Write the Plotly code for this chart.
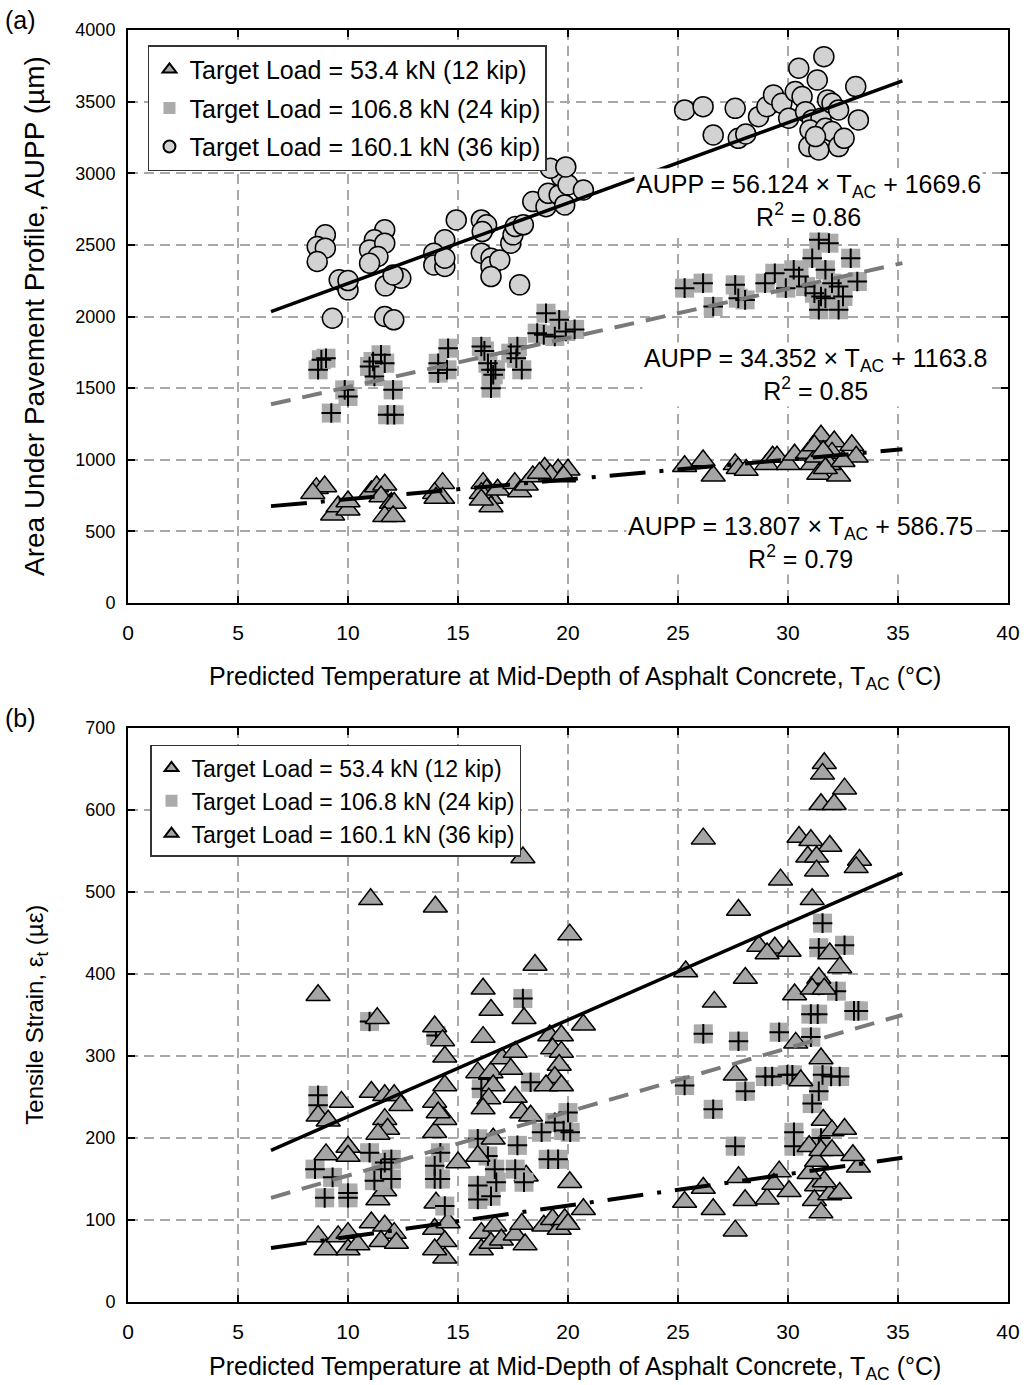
import plotly.graph_objects as go

# ---------------- (a) Area under pavement profile ----------------
# 53.4 kN (12 kip)
a12_t = [8.56, 8.94, 8.4, 9.3, 9.55, 10.0, 10.0, 11.06, 11.3, 11.67, 11.5, 11.97, 12.1, 11.67, 12.05,
         14.3, 13.94, 14.3, 14.0, 16.14, 16.3, 16.5, 16.06, 16.8, 16.5, 16.06, 17.58, 17.8, 18.1, 18.4,
         18.94, 19.55, 20.0, 19.2, 19.8, 18.7,
         25.3, 26.14, 26.6, 27.6, 27.74, 28.1, 29.03, 29.3, 29.5, 30.0, 30.3, 30.9, 31.1, 31.5, 32.1,
         32.0, 32.9, 33.1, 31.4, 32.3, 31.85, 31.3, 31.7, 31.2, 32.5, 31.6]
a12_v = [802, 814, 767, 616, 674, 651, 709, 779, 814, 826, 744, 698, 698, 605, 605,
         837, 767, 733, 733, 837, 791, 733, 767, 791, 674, 721, 837, 779, 826, 884,
         942, 930, 930, 895, 884, 907,
         955, 995, 888, 968, 941, 928, 968, 1021, 1021, 968, 1035, 1048, 968, 1168, 1128,
         1048, 1101, 1021, 901, 888, 968, 1021, 941, 1100, 990, 1060]

# 106.8 kN (24 kip)
a24_t = [8.79, 8.64, 9.0, 9.24, 9.85, 10.0, 10.98, 11.14, 11.5, 11.67, 11.2, 12.05, 11.8, 12.1,
         14.55, 14.1, 14.1, 14.5, 16.06, 16.2, 16.36, 16.5, 16.6, 16.5, 16.7, 17.4, 17.65, 17.9, 17.7,
         19.0, 18.6, 18.9, 19.6, 19.9, 19.4, 20.3,
         25.3, 26.14, 26.6, 27.6, 27.74, 28.05, 28.96, 29.4, 29.9, 30.26, 30.5, 31.4, 31.86, 31.1,
         31.7, 32.85, 33.15, 30.8, 31.2, 31.5, 31.7, 31.4, 32.3, 32.5, 32.0, 32.3]
a24_v = [1698, 1628, 1709, 1326, 1488, 1442, 1651, 1686, 1733, 1674, 1581, 1488, 1314, 1314,
         1779, 1674, 1605, 1628, 1791, 1760, 1674, 1628, 1593, 1500, 1628, 1744, 1709, 1628, 1791,
         2023, 1884, 1872, 1977, 1895, 1860, 1910,
         2198, 2233, 2070, 2221, 2128, 2116, 2233, 2302, 2198, 2326, 2279, 2535, 2512, 2407,
         2326, 2407, 2244, 2209, 2163, 2140, 2128, 2047, 2047, 2140, 2233, 2209]

# 160.1 kN (36 kip)
a36_t = [8.97, 8.6, 8.97, 8.6, 9.29, 9.6, 10.0, 10.0, 11.67, 11.2, 10.98, 11.67, 11.36, 10.98, 11.7,
         12.4, 12.05, 11.67, 12.08, 14.4, 13.9, 13.9, 14.4, 14.4, 14.92, 16.06, 16.3, 16.1, 16.06,
         16.5, 16.5, 16.9, 16.5, 17.8, 17.4, 17.5, 17.6, 17.97, 18.4, 19.0, 19.1, 19.6, 19.7, 19.2,
         20.0, 19.85, 20.7, 19.9,
         25.3, 26.14, 26.6, 27.6, 27.74, 28.08, 28.66, 29.04, 29.34, 29.72, 30.03, 30.33, 30.49,
         30.64, 31.33, 31.63, 30.8, 31.1, 31.5, 31.8, 32.0, 32.3, 33.08, 33.2, 31.0, 31.7, 32.0,
         30.95, 31.4, 32.3, 32.55, 31.25]
a36_v = [2570, 2488, 2477, 2384, 1988, 2256, 2186, 2251, 2605, 2535, 2465, 2512, 2419, 2372, 2214,
         2267, 2290, 2000, 1977, 2535, 2442, 2360, 2349, 2407, 2674, 2674, 2640, 2593, 2442,
         2407, 2349, 2395, 2279, 2221, 2512, 2570, 2628, 2640, 2802, 2767, 2860, 2849, 2977, 3035,
         2919, 2779, 2883, 3044,
         3442, 3465, 3267, 3453, 3244, 3274, 3395, 3465, 3547, 3488, 3384, 3570, 3733,
         3535, 3651, 3814, 3430, 3372, 3384, 3512, 3488, 3442, 3605, 3372, 3302, 3314, 3291,
         3186, 3163, 3186, 3244, 3256]

# regression lines for (a): slope, intercept, R2 (12, 24, 36 kip)
a_slope = [13.807, 34.352, 56.124]
a_icept = [586.75, 1163.8, 1669.6]
a_r2 = ["0.79", "0.85", "0.86"]

# ---------------- (b) Tensile strain ----------------
b12_t = [8.64, 9.0, 9.55, 10.0, 10.0, 10.45, 11.06, 11.67, 12.1, 11.5, 12.2, 13.94, 14.4, 14.4, 13.94,
         14.55, 16.06, 16.06, 16.67, 16.5, 16.97, 17.6, 17.9, 18.05, 18.9, 19.3, 19.6, 19.85, 20.0,
         20.7, 11.36, 11.67, 14.0, 18.1, 20.08,
         26.15, 25.3, 26.6, 27.6, 27.75, 28.05, 29.05, 29.6, 29.36, 30.05, 31.3, 31.2, 31.5, 31.9,
         32.35, 31.65, 30.96, 31.3, 33.2, 32.95]
b12_v = [80, 64, 80, 84, 64, 70, 97, 93, 84, 74, 72, 89, 74, 54, 64,
         97, 64, 84, 93, 72, 76, 82, 95, 70, 93, 101, 89, 101, 95,
         113, 125, 136, 121, 154, 146,
         139, 122, 113, 87, 152, 124, 126, 159, 144, 135, 142, 124, 109, 131,
         133, 147, 157, 172, 165, 179]

b24_t = [8.64, 8.64, 8.5, 9.3, 8.94, 10.0, 10.0, 10.98, 10.98, 11.67, 11.97, 11.97, 11.5, 11.2,
         13.94, 14.2, 13.94, 14.2, 14.4, 14.0, 15.9, 15.9, 16.36, 16.67, 16.74, 16.5, 15.9, 17.6,
         17.7, 18.3, 17.95, 18.0, 16.36, 16.06, 18.8, 19.1, 19.55, 19.4, 19.8, 20.0, 20.1,
         31.57, 31.4, 32.57, 31.4, 32.2, 31.04, 31.35, 33.0, 33.2, 31.04, 29.6, 26.15, 27.75,
         25.3, 28.06, 26.6, 28.97, 29.28, 29.97, 30.2, 31.57, 31.96, 32.35, 31.4, 31.1, 27.6,
         30.27, 30.27, 31.4, 31.5]
b24_v = [252, 240, 162, 152, 127, 127, 133, 342, 182, 170, 174, 150, 162, 148,
         166, 182, 150, 150, 117, 325, 199, 125, 178, 162, 146, 129, 142, 162,
         191, 268, 370, 146, 272, 260, 207, 174, 174, 219, 209, 231, 207,
         462, 432, 435, 386, 379, 351, 351, 355, 355, 323, 329, 327, 318,
         264, 257, 235, 275, 275, 277, 277, 277, 275, 275, 257, 242, 190,
         207, 190, 190, 200]

b36_t = [8.64, 8.64, 11.03, 13.97, 17.95, 16.14, 16.5, 18.0, 18.5, 20.08, 11.33, 13.94, 14.3, 14.4,
         14.4, 13.94, 13.94, 14.4, 14.1, 16.14, 15.9, 16.5, 16.6, 16.4, 16.14, 15.9, 16.6, 17.0,
         17.6, 17.4, 17.6, 17.9, 18.3, 15.0, 8.64, 9.1, 9.7, 11.06, 11.67, 12.1, 12.4, 11.67, 11.8,
         11.36, 9.0, 10.0, 10.0, 19.17, 19.7, 19.3, 19.7, 19.6, 19.4, 19.0, 19.7, 20.7,
         31.65, 31.57, 32.57, 31.5, 32.1, 26.15, 30.5, 31.04, 31.9, 30.9, 31.3, 31.3, 33.25, 33.1,
         29.66, 27.75, 31.1, 28.67, 29.4, 29.05, 30.05, 31.9, 32.35, 25.35, 28.06, 31.4, 30.3,
         31.1, 31.65, 26.65, 30.35, 31.5, 27.6, 30.58, 31.6, 32.0, 32.57, 30.96, 31.5, 32.0]
b36_v = [552, 374, 491, 482, 542, 382, 356, 346, 411, 448, 346, 336, 319, 299,
         264, 244, 207, 223, 231, 323, 280, 280, 264, 248, 236, 178, 199, 297,
         305, 284, 250, 231, 227, 170, 227, 221, 244, 256, 252, 252, 240, 223, 211,
         205, 180, 189, 178, 325, 325, 309, 305, 289, 274, 264, 264, 338,
         657, 644, 626, 607, 607, 565, 567, 563, 556, 543, 543, 526, 539, 530,
         515, 478, 491, 434, 432, 425, 428, 425, 408, 403, 395, 395, 375,
         382, 382, 366, 316, 297, 277, 270, 222, 209, 211, 190, 185, 185]

# fitted lines for (b): slope, intercept (12, 24, 36 kip)
b_slope = [3.83, 7.77, 11.78]
b_icept = [41.0, 76.5, 108.4]

trend_t = [6.5, 35.2]

legend_names = ["Target Load = 53.4 kN (12 kip)",
                "Target Load = 106.8 kN (24 kip)",
                "Target Load = 160.1 kN (36 kip)"]

FONT = "Liberation Sans, Arial, sans-serif"
TRI_FILL = "#a5a5a5"
SQ_FILL = "#ababab"
CIRC_FILL = "#d2d2d2"

fig = go.Figure()


def triangles(t, v, name, xa, ya, leg, group):
    fig.add_trace(go.Scatter(
        x=t, y=v, mode="markers", name=name, xaxis=xa, yaxis=ya, legend=leg,
        legendgroup=group,
        marker=dict(symbol="triangle-up", size=21, color=TRI_FILL,
                    line=dict(color="black", width=1.5))))


def plus_squares(t, v, name, xa, ya, leg, group):
    fig.add_trace(go.Scatter(
        x=t, y=v, mode="markers", name=name, xaxis=xa, yaxis=ya, legend=leg,
        legendgroup=group,
        marker=dict(symbol="square", size=19, color=SQ_FILL, line=dict(width=0))))
    fig.add_trace(go.Scatter(
        x=t, y=v, mode="markers", showlegend=False, xaxis=xa, yaxis=ya,
        legendgroup=group, hoverinfo="skip",
        marker=dict(symbol="cross-thin", size=14, color="black",
                    line=dict(color="black", width=2))))


def trend(slope, icept, style, xa, ya):
    fig.add_trace(go.Scatter(
        x=trend_t, y=[slope * t + icept for t in trend_t], mode="lines",
        showlegend=False, xaxis=xa, yaxis=ya, hoverinfo="skip", line=style))


line_styles = [
    dict(color="black", width=4, dash="36px,14px,4px,14px"),
    dict(color="#7a7a7a", width=4, dash="20px,12px"),
    dict(color="black", width=3.5),
]

# panel (a)
triangles(a12_t, a12_v, legend_names[0], "x", "y", "legend", "a12")
plus_squares(a24_t, a24_v, legend_names[1], "x", "y", "legend", "a24")
fig.add_trace(go.Scatter(
    x=a36_t, y=a36_v, mode="markers", name=legend_names[2], xaxis="x", yaxis="y",
    legend="legend", legendgroup="a36",
    marker=dict(symbol="circle", size=20, color=CIRC_FILL,
                line=dict(color="black", width=1.5))))
for k in range(3):
    trend(a_slope[k], a_icept[k], line_styles[k], "x", "y")

# panel (b)
triangles(b12_t, b12_v, legend_names[0], "x2", "y2", "legend2", "b12")
plus_squares(b24_t, b24_v, legend_names[1], "x2", "y2", "legend2", "b24")
triangles(b36_t, b36_v, legend_names[2], "x2", "y2", "legend2", "b36")
for k in range(3):
    trend(b_slope[k], b_icept[k], line_styles[k], "x2", "y2")

# regression equations on panel (a)
eq_pos_t = [30.55, 31.23, 30.95]
eq_pos_v = [426, 1595, 2813]
for k in range(3):
    fig.add_annotation(
        x=eq_pos_t[k], y=eq_pos_v[k], xref="x", yref="y", showarrow=False,
        text=(f"AUPP = {a_slope[k]} × T<sub>AC</sub> + {a_icept[k]}"
              f"<br>R<sup>2</sup> = {a_r2[k]}"),
        font=dict(size=25, color="black"), bgcolor="white", align="center")

axis_common = dict(
    showline=True, linecolor="black", linewidth=2, mirror="ticks",
    ticks="inside", ticklen=7, tickwidth=2, tickcolor="black",
    showgrid=True, gridcolor="#a8a8a8", gridwidth=1.5, griddash="10px,6px",
    zeroline=False,
)
xfont = dict(size=21, color="black", family=FONT)
yfont = dict(size=18, color="black", family=FONT)

fig.update_layout(
    width=1032, height=1385,
    margin=dict(l=128, r=24, t=30, b=83),
    paper_bgcolor="white", plot_bgcolor="white",
    font=dict(family=FONT, color="black"),
    showlegend=True,
    xaxis=dict(domain=[0, 1], range=[0, 40], dtick=5, anchor="y",
               ticklabelstandoff=10, tickfont=xfont, **axis_common),
    yaxis=dict(domain=[0.5495, 1], range=[0, 4000], dtick=500, anchor="x",
               ticklabelstandoff=7, tickfont=yfont, **axis_common),
    xaxis2=dict(domain=[0, 1], range=[0, 40], dtick=5, anchor="y2",
                ticklabelstandoff=10, tickfont=xfont, **axis_common),
    yaxis2=dict(domain=[0, 0.4513], range=[0, 700], dtick=100, anchor="x2",
                ticklabelstandoff=7, tickfont=yfont, **axis_common),
    legend=dict(x=0.0227, y=0.988, xanchor="left", yanchor="top",
                bgcolor="white", bordercolor="#333333", borderwidth=1.5,
                font=dict(size=25, family=FONT), itemsizing="constant",
                tracegroupgap=3),
    legend2=dict(x=0.025, y=0.4379, xanchor="left", yanchor="top",
                 bgcolor="white", bordercolor="#333333", borderwidth=1.5,
                 font=dict(size=23, family=FONT), itemsizing="constant",
                 tracegroupgap=0),
)

xtitle = "Predicted Temperature at Mid-Depth of Asphalt Concrete, T<sub>AC</sub> (°C)"
titles = [
    dict(text=xtitle, x=0.508, y=0.4906, textangle=0, size=25),
    dict(text=xtitle, x=0.508, y=-0.0519, textangle=0, size=25),
    dict(text="Area Under Pavement Profile, AUPP (µm)", x=-0.107, y=0.775, textangle=-90, size=28),
    dict(text="Tensile Strain, ε<sub>t</sub> (µε)", x=-0.105, y=0.2256, textangle=-90, size=24),
    dict(text="(a)", x=-0.1216, y=1.0079, textangle=0, size=25),
    dict(text="(b)", x=-0.1216, y=0.4591, textangle=0, size=25),
]
for t in titles:
    fig.add_annotation(
        text=t["text"], x=t["x"], y=t["y"], xref="paper", yref="paper",
        xanchor="center", yanchor="middle", textangle=t["textangle"],
        showarrow=False, font=dict(size=t["size"], color="black", family=FONT))

fig.write_html("out.html")
